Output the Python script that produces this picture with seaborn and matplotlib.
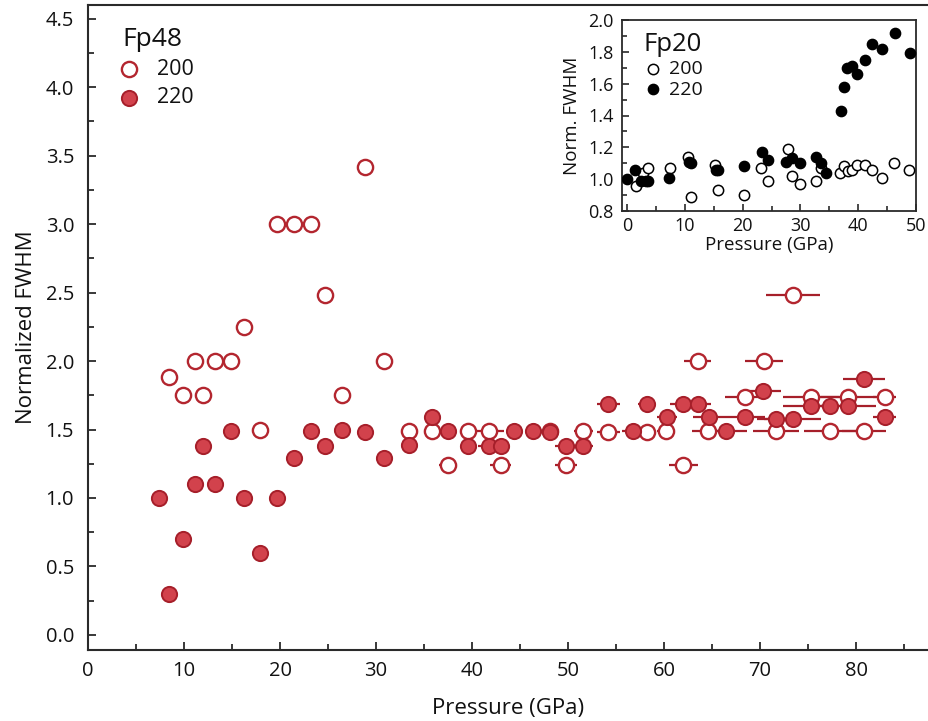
import matplotlib
matplotlib.use("Agg")
import matplotlib.pyplot as plt
from matplotlib.ticker import MultipleLocator
import seaborn as sns
import pandas as pd

# ---------------- data: main panel (Fp48) ----------------
p200 = [8.4, 9.9, 11.1, 12.0, 13.2, 14.9, 16.2, 17.95, 19.7, 21.5, 23.2, 24.7, 26.5, 28.85,
        30.8, 33.4, 35.8, 37.5, 39.6, 41.8, 43.0, 48.1, 49.8, 51.6, 54.2, 58.2, 60.2, 62.0,
        63.5, 64.6, 68.4, 70.4, 71.7, 73.4, 75.3, 77.3, 79.2, 80.8, 83.0]
v200 = [1.88, 1.75, 2.0, 1.75, 2.0, 2.0, 2.25, 1.50, 3.0, 3.0, 3.0, 2.48, 1.75, 3.42,
        2.0, 1.49, 1.49, 1.24, 1.49, 1.49, 1.24, 1.49, 1.24, 1.49, 1.48, 1.48, 1.49, 1.24,
        2.0, 1.49, 1.74, 2.0, 1.49, 2.48, 1.74, 1.49, 1.74, 1.49, 1.74]
e200 = [0, 0, 0, 0, 0, 0, 0, 0, 0, 0, 0, 0, 0, 0,
        0, 0, 0, 0.9, 0, 1.5, 1.1, 0.9, 1.15, 1.0, 1.2, 1.0, 0.95, 1.5,
        1.4, 1.7, 2.1, 2.0, 2.4, 2.8, 2.9, 2.7, 2.9, 2.3, 1.2]

p220 = [7.4, 8.4, 9.9, 11.1, 12.0, 13.2, 14.9, 16.2, 17.95, 19.65, 21.5, 23.2, 24.7, 26.5,
        28.85, 30.8, 33.4, 35.8, 37.5, 39.6, 41.8, 43.0, 44.4, 46.3, 48.1, 49.8, 51.6, 54.2,
        56.8, 58.2, 60.3, 62.0, 63.5, 64.7, 66.5, 68.4, 70.3, 71.7, 73.4, 75.3, 77.3, 79.2,
        80.8, 83.0]
v220 = [1.0, 0.3, 0.7, 1.1, 1.38, 1.1, 1.49, 1.0, 0.6, 1.0, 1.29, 1.49, 1.38, 1.5,
        1.48, 1.29, 1.39, 1.59, 1.49, 1.38, 1.38, 1.38, 1.49, 1.49, 1.48, 1.38, 1.38, 1.69,
        1.49, 1.69, 1.59, 1.69, 1.69, 1.59, 1.49, 1.59, 1.78, 1.58, 1.58, 1.67, 1.67, 1.67,
        1.87, 1.59]
e220 = [0, 0, 0, 0, 0, 0, 0, 0, 0, 0, 0, 0, 0, 0,
        0, 0, 0, 0, 0, 0, 1.2, 0, 0.8, 0, 1.0, 1.15, 1.0, 1.2,
        1.2, 0.9, 1.0, 1.4, 1.4, 1.65, 2.1, 2.1, 1.9, 2.0, 3.0, 2.9, 2.0, 2.9,
        2.2, 1.2]

# ---------------- data: inset (Fp20) ----------------
ip200 = [1.6, 2.8, 3.6, 7.4, 10.5, 11.0, 15.2, 15.7, 20.3, 23.2, 24.3, 27.8, 28.6, 30.0,
         32.7, 33.5, 36.9, 37.6, 38.3, 39.0, 39.7, 41.2, 42.3, 44.2, 46.2, 48.8]
iv200 = [0.96, 1.04, 1.07, 1.07, 1.14, 0.89, 1.09, 0.93, 0.90, 1.07, 0.99, 1.19, 1.02, 0.97,
         0.99, 1.07, 1.04, 1.08, 1.05, 1.06, 1.09, 1.09, 1.06, 1.01, 1.10, 1.06]
ip220 = [0.0, 1.3, 2.4, 3.2, 3.6, 7.3, 10.7, 11.1, 15.3, 15.8, 20.3, 23.3, 24.3, 27.5,
         28.6, 30.0, 32.7, 33.5, 34.4, 37.0, 37.6, 38.0, 38.9, 39.7, 41.2, 42.3, 44.2,
         46.3, 49.0]
iv220 = [1.0, 1.06, 0.99, 0.99, 0.99, 1.01, 1.11, 1.10, 1.06, 1.06, 1.08, 1.17, 1.12, 1.11,
         1.13, 1.10, 1.14, 1.10, 1.04, 1.43, 1.58, 1.70, 1.71, 1.66, 1.75, 1.85, 1.82,
         1.92, 1.79]

df200 = pd.DataFrame({"P": p200, "V": v200, "E": e200})
df220 = pd.DataFrame({"P": p220, "V": v220, "E": e220})
di200 = pd.DataFrame({"P": ip200, "V": iv200})
di220 = pd.DataFrame({"P": ip220, "V": iv220})

sns.set_style("ticks")
plt.rcParams["font.family"] = ["Open Sans", "DejaVu Sans"]
plt.rcParams["axes.edgecolor"] = "#2a2a2a"
plt.rcParams["xtick.color"] = "#2a2a2a"
plt.rcParams["ytick.color"] = "#2a2a2a"
plt.rcParams["xtick.labelcolor"] = "#111111"
plt.rcParams["ytick.labelcolor"] = "#111111"
plt.rcParams["text.color"] = "#111111"
plt.rcParams["axes.labelcolor"] = "#111111"

FILL = "#d2424c"
EDGE = "#a61f2a"
OPEN_EDGE = "#b3262f"

W, H = 929, 721
fig = plt.figure(figsize=(W / 100, H / 100), dpi=100)

# ---------------- main axes ----------------
ax = fig.add_axes([88 / W, (H - 650) / H, (W - 88) / W, (650 - 5) / H])

for d in (df200, df220):
    sub = d[d["E"] > 0]
    ax.errorbar(sub["P"], sub["V"], xerr=sub["E"], fmt="none", ecolor=EDGE,
                elinewidth=1.6, capsize=0, zorder=1)

sns.scatterplot(data=df200, x="P", y="V", ax=ax, s=120, color="white",
                edgecolor=OPEN_EDGE, linewidth=1.7, label="200", zorder=3)
sns.scatterplot(data=df220, x="P", y="V", ax=ax, s=120, color=FILL,
                edgecolor=EDGE, linewidth=1.4, label="220", zorder=4)

ax.set_xlim(0, 87.6)
ax.set_ylim(-0.11, 4.6)
ax.xaxis.set_major_locator(MultipleLocator(10))
ax.xaxis.set_minor_locator(MultipleLocator(5))
ax.yaxis.set_major_locator(MultipleLocator(0.5))
ax.yaxis.set_minor_locator(MultipleLocator(0.25))
ax.yaxis.set_major_formatter(matplotlib.ticker.FormatStrFormatter("%.1f"))
ax.tick_params(axis="both", which="both", direction="in", labelsize=14.5, width=1.3)
ax.tick_params(axis="both", which="major", length=6)
ax.tick_params(axis="both", which="minor", length=4)
ax.tick_params(axis="x", which="major", pad=8)
ax.tick_params(axis="y", which="major", pad=10)
for side in ("left", "bottom", "top"):
    ax.spines[side].set_linewidth(1.5)
ax.spines["right"].set_visible(False)
ax.set_xlabel("Pressure (GPa)", fontsize=16, labelpad=12)
ax.set_ylabel("Normalized FWHM", fontsize=16, labelpad=6)

h, l = ax.get_legend_handles_labels()
leg = ax.legend(h, l, title="Fp48", loc="upper left", frameon=False,
                bbox_to_anchor=(112 / W, 1 - 16 / H), bbox_transform=fig.transFigure,
                fontsize=15.5, title_fontsize=19, alignment="left", borderpad=0,
                handletextpad=1.05, labelspacing=0.35, handlelength=0.55,
                markerscale=1.0)
leg._legend_box.sep = 5

# ---------------- inset ----------------
ai = fig.add_axes([622 / W, (H - 211) / H, (916 - 622) / W, (211 - 20) / H])
sns.scatterplot(data=di200, x="P", y="V", ax=ai, s=55, color="white",
                edgecolor="black", linewidth=1.1, label="200", zorder=3)
sns.scatterplot(data=di220, x="P", y="V", ax=ai, s=55, color="black",
                edgecolor="black", linewidth=1.0, label="220", zorder=4)
ai.set_xlim(-0.9, 50)
ai.set_ylim(0.8, 2.0)
ai.xaxis.set_major_locator(MultipleLocator(10))
ai.xaxis.set_minor_locator(MultipleLocator(5))
ai.yaxis.set_major_locator(MultipleLocator(0.2))
ai.yaxis.set_minor_locator(MultipleLocator(0.1))
ai.yaxis.set_major_formatter(matplotlib.ticker.FormatStrFormatter("%.1f"))
ai.tick_params(axis="both", which="both", direction="in", labelsize=13, width=1.2)
ai.tick_params(axis="both", which="major", length=5)
ai.tick_params(axis="both", which="minor", length=3.5)
ai.tick_params(axis="x", which="major", pad=4)
ai.tick_params(axis="y", which="major", pad=6)
for side in ai.spines:
    ai.spines[side].set_linewidth(1.3)
ai.set_xlabel("Pressure (GPa)", fontsize=13.5, labelpad=1)
ai.set_ylabel("Norm. FWHM", fontsize=13.5, labelpad=5)
h2, l2 = ai.get_legend_handles_labels()
leg2 = ai.legend(h2, l2, title="Fp20", loc="upper left", frameon=False,
                 bbox_to_anchor=(634 / W, 1 - 22 / H), bbox_transform=fig.transFigure,
                 fontsize=14, title_fontsize=18.5, alignment="left", borderpad=0,
                 handletextpad=0.3, labelspacing=0.15, handlelength=1.0)

fig.savefig("out.png", dpi=100)
